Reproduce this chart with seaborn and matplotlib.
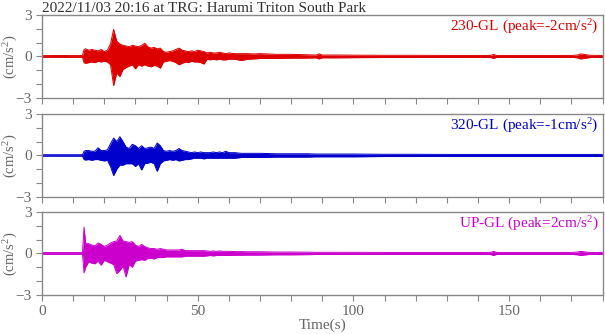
import numpy as np
import pandas as pd
import matplotlib
matplotlib.use("Agg")
import matplotlib.pyplot as plt
import seaborn as sns

# ---- data (envelope of each trace) ----
t = [0, 3, 6, 9, 12, 13, 13.5,
     14, 15, 16, 17, 18, 19, 20, 21, 22, 23, 24, 25, 26, 27, 28, 29, 30,
     31, 32, 33, 34, 35, 36, 37, 38, 39, 40, 41, 42, 43, 44, 45, 46, 47,
     48, 49, 50, 51, 52, 53, 54, 55, 56, 57, 58, 59, 60,
     62, 64, 66, 68, 70,
     75, 80, 85, 88, 89, 90, 95, 100, 110, 120, 130, 140, 144, 145, 146,
     150, 160, 170, 172, 173, 174, 176, 180]

ew_up = [0.06, 0.06, 0.07, 0.06, 0.06, 0.07, 0.5,
         0.55, 0.45, 0.5, 0.45, 0.4, 0.5, 0.35, 0.45, 0.9, 1.95, 1.1, 0.9, 0.8, 0.75, 0.7, 0.8, 0.75,
         0.7, 0.8, 0.95, 0.7, 0.6, 0.65, 0.55, 0.6, 0.35, 0.3, 0.35, 0.4, 0.5, 0.6, 0.45, 0.4, 0.35,
         0.4, 0.35, 0.45, 0.4, 0.35, 0.25, 0.3, 0.25, 0.25, 0.3, 0.25, 0.2, 0.25,
         0.2, 0.2, 0.2, 0.18, 0.2,
         0.15, 0.15, 0.12, 0.1, 0.18, 0.1, 0.1, 0.09, 0.08, 0.08, 0.07, 0.07, 0.07, 0.14, 0.07,
         0.07, 0.07, 0.07, 0.1, 0.18, 0.15, 0.08, 0.07]
ew_lo = [-0.06, -0.06, -0.06, -0.07, -0.06, -0.06, -0.45,
         -0.5, -0.45, -0.4, -0.45, -0.35, -0.4, -0.35, -0.4, -0.6, -2.1, -1.2, -1.45, -0.95, -0.8, -0.7, -0.6, -0.9,
         -0.6, -0.7, -0.6, -0.7, -0.75, -0.65, -0.7, -0.85, -0.4, -0.35, -0.3, -0.35, -0.45, -0.6, -0.5, -0.4, -0.45,
         -0.35, -0.4, -0.4, -0.45, -0.55, -0.2, -0.25, -0.2, -0.25, -0.2, -0.25, -0.25, -0.2,
         -0.2, -0.3, -0.2, -0.18, -0.15,
         -0.15, -0.12, -0.12, -0.1, -0.18, -0.1, -0.1, -0.09, -0.08, -0.08, -0.07, -0.07, -0.07, -0.14, -0.07,
         -0.07, -0.07, -0.07, -0.1, -0.18, -0.15, -0.08, -0.07]

ns_up = [0.05, 0.05, 0.05, 0.05, 0.05, 0.05, 0.3,
         0.35, 0.35, 0.3, 0.3, 0.55, 0.35, 0.35, 0.4, 0.85, 1.25, 1.0, 1.35, 1.0, 0.6, 0.5, 0.8, 0.7,
         0.5, 0.7, 0.5, 0.55, 0.6, 0.5, 0.9, 0.7, 0.35, 0.3, 0.35, 0.3, 0.35, 0.5, 0.35, 0.3, 0.25,
         0.2, 0.25, 0.2, 0.25, 0.2, 0.2, 0.2, 0.25, 0.2, 0.25, 0.2, 0.3, 0.2,
         0.2, 0.15, 0.15, 0.15, 0.15,
         0.12, 0.12, 0.12, 0.1, 0.1, 0.1, 0.1, 0.1, 0.08, 0.08, 0.07, 0.07, 0.07, 0.07, 0.07,
         0.07, 0.07, 0.07, 0.07, 0.07, 0.07, 0.07, 0.07]
ns_lo = [-0.05, -0.05, -0.05, -0.05, -0.05, -0.05, -0.3,
         -0.33, -0.3, -0.35, -0.3, -0.3, -0.35, -0.4, -0.35, -0.8, -1.45, -1.0, -0.7, -0.7, -0.6, -0.6, -0.6, -0.8,
         -0.6, -1.05, -0.6, -0.55, -0.5, -0.6, -1.15, -0.6, -0.4, -0.35, -0.3, -0.35, -0.3, -0.4, -0.35, -0.3, -0.3,
         -0.25, -0.2, -0.2, -0.2, -0.25, -0.2, -0.2, -0.2, -0.2, -0.2, -0.2, -0.2, -0.2,
         -0.2, -0.15, -0.15, -0.15, -0.15,
         -0.12, -0.12, -0.12, -0.1, -0.1, -0.1, -0.1, -0.1, -0.08, -0.08, -0.07, -0.07, -0.07, -0.07, -0.07,
         -0.07, -0.07, -0.07, -0.07, -0.07, -0.07, -0.07, -0.07]

ud_up = [0.06, 0.06, 0.06, 0.06, 0.06, 0.06, 1.9,
         0.75, 0.7, 0.6, 0.55, 0.75, 0.65, 0.5, 0.6, 0.75, 0.85, 0.9, 1.3, 0.9, 0.85, 0.8, 0.85, 0.6,
         0.5, 0.65, 0.5, 0.4, 0.35, 0.35, 0.3, 0.35, 0.3, 0.25, 0.25, 0.25, 0.25, 0.25, 0.3, 0.2, 0.2,
         0.2, 0.2, 0.2, 0.2, 0.2, 0.18, 0.15, 0.18, 0.15, 0.18, 0.15, 0.15, 0.15,
         0.13, 0.13, 0.12, 0.12, 0.12,
         0.1, 0.1, 0.09, 0.08, 0.08, 0.08, 0.08, 0.08, 0.07, 0.07, 0.07, 0.07, 0.07, 0.15, 0.07,
         0.07, 0.07, 0.07, 0.1, 0.15, 0.12, 0.07, 0.07]
ud_lo = [-0.06, -0.06, -0.06, -0.06, -0.06, -0.06, -1.4,
         -1.0, -0.6, -0.7, -0.75, -0.55, -0.85, -0.5, -0.6, -0.7, -0.8, -1.45, -1.25, -0.9, -1.7, -0.8, -1.0, -0.55,
         -0.5, -0.45, -0.5, -0.35, -0.35, -0.4, -0.3, -0.3, -0.3, -0.25, -0.25, -0.25, -0.25, -0.25, -0.25, -0.2, -0.2,
         -0.2, -0.2, -0.2, -0.2, -0.2, -0.18, -0.15, -0.18, -0.15, -0.15, -0.15, -0.15, -0.15,
         -0.13, -0.13, -0.12, -0.12, -0.12,
         -0.1, -0.1, -0.09, -0.08, -0.08, -0.08, -0.08, -0.08, -0.07, -0.07, -0.07, -0.07, -0.07, -0.15, -0.07,
         -0.07, -0.07, -0.07, -0.1, -0.15, -0.12, -0.07, -0.07]

components = ["230-GL", "320-GL", "UP-GL"]
peaks = [-2, -1, 2]
colors = ["#dd0000", "#0000cc", "#cc00cc"]
uppers = [ew_up, ns_up, ud_up]
lowers = [ew_lo, ns_lo, ud_lo]

title = "2022/11/03 20:16 at TRG: Harumi Triton South Park"
x_ticks = [0, 50, 100, 150]
y_ticks = [-3, 0, 3]

# ---- style ----
sns.set_theme(style="ticks")
plt.rcParams["font.family"] = ["Liberation Serif", "DejaVu Serif"]
plt.rcParams["mathtext.fontset"] = "custom"
plt.rcParams["mathtext.rm"] = "Liberation Serif"
plt.rcParams["mathtext.it"] = "Liberation Serif"

gray_text = "#666666"
spine_col = "#888888"
fs = 11

fig = plt.figure(figsize=(6.05, 3.34), dpi=100)
bottoms = [0.7066, 0.4102, 0.1168]
height = 0.249
left, width = 42 / 605, 560.5 / 605

for i in range(3):
    ax = fig.add_axes([left, bottoms[i], width, height])
    df = pd.DataFrame({"t": t, "up": uppers[i], "lo": lowers[i]})
    ax.fill_between(df["t"], df["lo"], df["up"], color=colors[i], lw=0)
    sns.lineplot(data=df, x="t", y="up", ax=ax, color=colors[i], lw=0.7)
    sns.lineplot(data=df, x="t", y="lo", ax=ax, color=colors[i], lw=0.7)
    ax.set_xlim(0, 180)
    ax.set_ylim(-3, 3)
    ax.set_yticks(y_ticks)
    ax.set_yticks([-2, -1, 1, 2], minor=True)
    ax.set_xticks(np.arange(0, 181, 10), minor=True)
    ax.set_xticks(x_ticks)
    ax.tick_params(axis="both", which="both", direction="out", length=4.5,
                   width=0.8, color=spine_col, labelcolor=gray_text, labelsize=fs, pad=3)
    for s in ax.spines.values():
        s.set_color(spine_col)
        s.set_linewidth(1.0)
    ax.set_ylabel("(cm/s$^2$)", color=gray_text, fontsize=10.5)
    ax.yaxis.set_label_coords(-0.04, 0.5)
    if i < 2:
        ax.set_xticklabels([])
        ax.set_xlabel("")
    else:
        ax.set_xlabel("Time(s)", color=gray_text, fontsize=fs, labelpad=0)
    ax.text(0.993, 0.96, f"{components[i]} (peak={peaks[i]}cm/s$^2$)",
            transform=ax.transAxes, ha="right", va="top", color=colors[i], fontsize=fs)
    if i == 0:
        ax.text(0.0, 1.036, title, transform=ax.transAxes, ha="left", va="baseline",
                color="#333333", fontsize=fs)

fig.savefig("out.png", dpi=100)
